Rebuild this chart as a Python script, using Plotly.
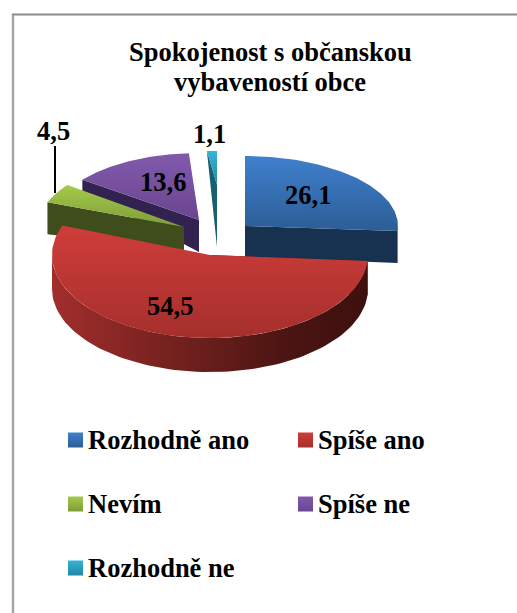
import numpy as np
import plotly.graph_objects as go

categories = ["Rozhodně ano", "Spíše ano", "Nevím", "Spíše ne", "Rozhodně ne"]
values = [26.1, 54.5, 4.5, 13.6, 1.1]
value_labels = ["26,1", "54,5", "4,5", "13,6", "1,1"]
title_lines = ["Spokojenost s občanskou", "vybaveností obce"]

W, H = 517, 613
FONT = "Liberation Serif"
FS = 26.5
# exploded-slice geometry in pixels: apex x, apex y, rx, ry, wall depth at apex, wall depth at rim
geometry = [(245, 226, 153, 70, 31, 32), (210, 255, 158, 83, 34, 34), (184, 227, 146, 70, 23, 32),
            (199, 220, 146, 67, 32, 11), (217, 185, 146, 34, 62, 0)]
top_grad = [("#3f80cd", "#2c5d96"), ("#cf3d3a", "#a52f2c"), ("#a4ca4a", "#7f9c38"),
            ("#8259ac", "#6a4590"), ("#35b4d8", "#1f87a4")]
wall_col = ["#173150", "#6b1f1c", "#3f4d1c", "#31224f", "#17606f"]
label_xy = [(308, 195), (170, 306), (0, 0), (163, 182), (0, 0)]
outside_xy = {2: (53, 131), 4: (209, 134)}
legend_xy = [(68, 440), (298, 440), (68, 504), (298, 504), (68, 568)]
title_y = [52, 82]

fig = go.Figure()
fracs = np.array(values) / sum(values)
ends = np.cumsum(fracs) * 2 * np.pi
starts = ends - fracs * 2 * np.pi

def pt(i, t):
    cx, cy, rx, ry = geometry[i][:4]
    return cx + rx * np.sin(t), cy - ry * np.cos(t)

def add_poly(xs, ys, col=None, grad=None):
    kw = dict(fillcolor=col) if grad is None else dict(fillgradient=grad)
    fig.add_trace(go.Scatter(x=list(xs) + [xs[0]], y=list(ys) + [ys[0]], mode="lines", fill="toself",
                             line=dict(width=0), hoverinfo="skip", showlegend=False, **kw))

for i in [4, 3, 2, 0, 1]:
    cx, cy, rx, ry, d, d_rim = geometry[i]
    a, b = starts[i], ends[i]
    # radial wall on whichever edge faces the viewer
    front = a if pt(i, a)[1] > pt(i, b)[1] else b
    ox, oy = pt(i, front)
    add_poly([cx, ox, ox, cx], [cy, oy, oy + d_rim, cy + d], col=wall_col[i])
    # rim of the slice where it faces the viewer
    lo, hi = max(a, np.pi / 2), min(b, 3 * np.pi / 2)
    if hi > lo:
        t = np.linspace(lo, hi, 90)
        px, py = pt(i, t)
        add_poly(np.r_[px, px[::-1]], np.r_[py, py[::-1] + d_rim],
                 grad=dict(type="horizontal", colorscale=[[0, "#a12e2b"], [0.3, "#7e2421"], [0.75, "#4a1512"], [1, "#3d100e"]]))
    # top face
    t = np.linspace(a, b, 90)
    px, py = pt(i, t)
    add_poly(np.r_[cx, px], np.r_[cy, py],
             grad=dict(type="vertical", colorscale=[[0, top_grad[i][1]], [1, top_grad[i][0]]]))

# leader line for the small outside label
fig.add_shape(type="line", x0=55, x1=55, y0=146, y1=193, line=dict(color="black", width=2))

for i, lab in enumerate(value_labels):
    x, y = outside_xy.get(i, label_xy[i])
    fig.add_annotation(x=x, y=y, text=f"<b>{lab}</b>", showarrow=False, font=dict(family=FONT, size=FS, color="black"))

# legend
for i, c in enumerate(categories):
    lx, ly = legend_xy[i]
    fig.add_trace(go.Scatter(x=[lx + 7.5], y=[ly], mode="markers", hoverinfo="skip", showlegend=False,
                             marker=dict(symbol="square", size=15, color=top_grad[i][0],
                                         gradient=dict(type="vertical", color=top_grad[i][1]), line=dict(width=0))))
    fig.add_annotation(x=lx + 18, y=ly, text=f"<b>{c}</b>", xanchor="left", showarrow=False,
                       font=dict(family=FONT, size=FS, color="black"))

# title
for line, y in zip(title_lines, title_y):
    fig.add_annotation(x=270, y=y, text=f"<b>{line}</b>", showarrow=False,
                       font=dict(family=FONT, size=FS, color="black"), align="center")

# outer frame
fig.add_shape(type="line", x0=13, x1=13, y0=14, y1=H, line=dict(color="#a6a6a6", width=2.5))
fig.add_shape(type="line", x0=12, x1=W, y0=14.5, y1=14.5, line=dict(color="#8c8c8c", width=2))

fig.update_layout(width=W, height=H, margin=dict(l=0, r=0, t=0, b=0), paper_bgcolor="white", plot_bgcolor="white",
                  showlegend=False,
                  xaxis=dict(range=[0, W], visible=False, fixedrange=True),
                  yaxis=dict(range=[H, 0], visible=False, fixedrange=True))
fig.write_html("out.html", config=dict(displayModeBar=False),
               post_script="document.body.style.margin='0';document.body.style.overflow='hidden';")
